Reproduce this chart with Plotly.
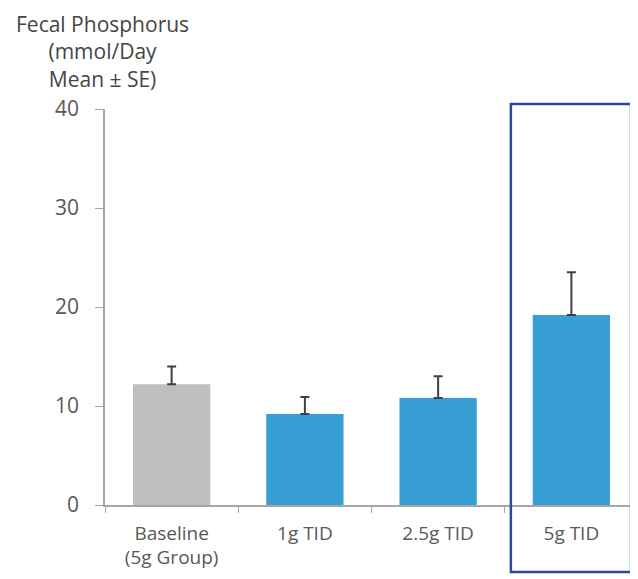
import plotly.graph_objects as go

categories = ["Baseline<br>(5g Group)", "1g TID", "2.5g TID", "5g TID"]
means = [12.2, 9.2, 10.8, 19.2]
se = [1.8, 1.7, 2.2, 4.3]
bar_colors = ["#BFBFBF", "#379FD4", "#379FD4", "#379FD4"]
y_ticks = [0, 10, 20, 30, 40]
title_lines = ["Fecal Phosphorus", "(mmol/Day", "Mean ± SE)"]

# page body has an 8px margin; size the figure to fit the window
W, H = 630, 571
L, T, B = 97, 101, 74
PH = H - T - B  # 396
PW = W - L      # 533

fig = go.Figure()
fig.add_trace(go.Bar(
    x=categories, y=means,
    marker=dict(color=bar_colors, line=dict(width=0)),
    width=0.58,
    error_y=dict(type="data", array=se, symmetric=False, arrayminus=[0]*4,
                 color="#404040", thickness=2, width=4.5),
))

fig.update_layout(
    width=W, height=H,
    margin=dict(l=L, r=0, t=T, b=B, autoexpand=False),
    plot_bgcolor="white", paper_bgcolor="white",
    showlegend=False,
    font=dict(family="Open Sans", color="#595959"),
    xaxis=dict(showline=True, linecolor="#A6A6A6", linewidth=1.5,
               ticks="outside", tickson="boundaries", ticklen=6, tickcolor="#A6A6A6",
               ticklabelstandoff=10,
               tickfont=dict(size=19, color="#595959"), showgrid=False),
    yaxis=dict(range=[0, 40], tickvals=y_ticks, showline=True, linecolor="#A6A6A6", linewidth=1.5,
               ticks="outside", ticklen=8, tickcolor="#A6A6A6",
               ticklabelstandoff=12,
               tickfont=dict(size=21, color="#595959"), showgrid=False, zeroline=False),
    bargap=0.42,
)

fig.add_annotation(text="<br>".join(title_lines), xref="paper", yref="paper",
                   x=(94 - L) / PW, y=1 + T / PH, xanchor="center", yanchor="top", align="center",
                   yshift=0, showarrow=False,
                   font=dict(size=21, color="#454545", family="Open Sans"))

fig.add_shape(type="rect", xref="x", yref="paper", x0=2.546, x1=3.448,
              y0=-67 / PH, y1=1 + 5 / PH, line=dict(color="#2B4A9C", width=2.5),
              fillcolor="rgba(0,0,0,0)")

fig.write_html("out.html")
